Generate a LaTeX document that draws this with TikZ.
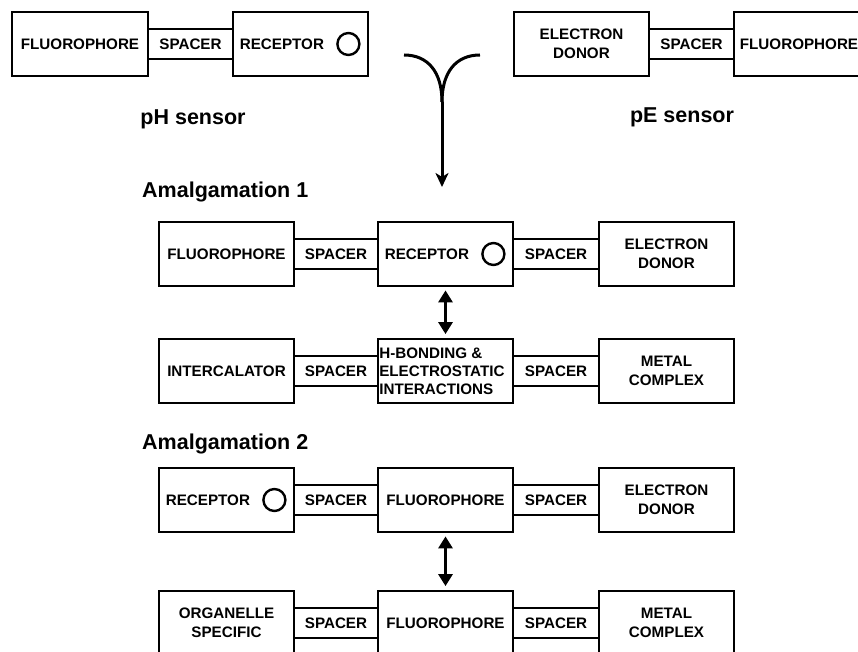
\documentclass[tikz,border=0pt]{standalone}
\usepackage{fontspec}
\setmainfont{Liberation Sans}
\usetikzlibrary{arrows.meta}
\begin{document}
\begin{tikzpicture}[x=1pt,y=-1pt,
  box/.style={draw, line width=2.8pt, inner sep=0pt, minimum height=64pt, align=center, font=\fontsize{15.2}{18.5}\selectfont\bfseries},
  spc/.style={draw, line width=2.8pt, inner sep=0pt, minimum height=30pt, font=\fontsize{15.2}{18.5}\selectfont\bfseries},
  lbl/.style={inner sep=0pt, font=\fontsize{15.2}{18}\selectfont\bfseries},
  ring/.style={draw, circle, line width=2.4pt, minimum size=22pt, inner sep=0pt},
  ttl/.style={inner sep=0pt, font=\fontsize{21.5}{24}\selectfont\bfseries},
  dbl/.style={line width=3.8pt, {Triangle[width=14pt,length=12pt]}-{Triangle[width=14pt,length=12pt]}, shorten <=3pt, shorten >=3.5pt},
  yarr/.style={line width=3pt},
]
\useasboundingbox (0,0) rectangle (858,652);
\clip (0,0) rectangle (858,652);

% top row: pH sensor
\node[box, minimum width=136pt] (f1) at (80,44) {FLUOROPHORE};
\node[box, minimum width=135pt] (r1) at (300.5,44) {};
\node[spc, minimum width=85pt] (s1) at (190.5,44) {SPACER};
\node[lbl, anchor=west] (r1t) at ([xshift=8pt]r1.west) {RECEPTOR};
\node[ring] (r1c) at ([xshift=-21pt]r1.east) {};
\node[ttl, anchor=base] (phs) at (193,125) {pH sensor};

% top row: pE sensor
\node[box, minimum width=135pt] (e1) at (581.5,44) {ELECTRON\\DONOR};
\node[box, minimum width=130pt] (f2) at (799,44) {FLUOROPHORE};
\node[spc, minimum width=85pt] (s2) at (691.5,44) {SPACER};
\node[ttl, anchor=base] (pes) at (682,123) {pE sensor};

% Y arrow
\coordinate (yl) at (404,55);
\coordinate (yr) at (480,55);
\coordinate (yj) at (442,102);
\coordinate (yt) at (442,187);
\draw[yarr] (yl) .. controls (428,55) and (442,72) .. (yj);
\draw[yarr] (yr) .. controls (456,55) and (442,72) .. (yj);
\draw[yarr, -{Stealth[width=13pt,length=14pt,inset=4pt]}] (yj) -- (yt);

% Amalgamation 1
\node[ttl, anchor=base west] (am1) at (142,198) {Amalgamation 1};
\node[box, minimum width=135pt] (a1) at (226.5,254) {FLUOROPHORE};
\node[box, minimum width=135pt] (b1) at (445.5,254) {};
\node[box, minimum width=135pt] (c1) at (666.5,254) {ELECTRON\\DONOR};
\node[spc, minimum width=84pt] (sa1) at (336,254) {SPACER};
\node[spc, minimum width=86pt] (sb1) at (556,254) {SPACER};
\node[lbl, anchor=west] (b1t) at ([xshift=8pt]b1.west) {RECEPTOR};
\node[ring] (b1c) at ([xshift=-21pt]b1.east) {};

\node[box, minimum width=135pt] (a2) at (226.5,371) {INTERCALATOR};
\node[box, minimum width=135pt] (b2) at (445.5,371) {};
\node[box, minimum width=135pt] (c2) at (666.5,371) {METAL\\COMPLEX};
\node[spc, minimum width=84pt] (sa2) at (336,371) {SPACER};
\node[spc, minimum width=86pt] (sb2) at (556,371) {SPACER};
\node[lbl, anchor=west, align=left] (b2t) at ([xshift=2.5pt]b2.west) {H-BONDING \&\\ELECTROSTATIC\\INTERACTIONS};

\draw[dbl] (b1.south) -- (b2.north);

% Amalgamation 2
\node[ttl, anchor=base west] (am2) at (142,449) {Amalgamation 2};
\node[box, minimum width=135pt] (a3) at (226.5,500) {};
\node[box, minimum width=135pt] (b3) at (445.5,500) {FLUOROPHORE};
\node[box, minimum width=135pt] (c3) at (666.5,500) {ELECTRON\\DONOR};
\node[spc, minimum width=84pt] (sa3) at (336,500) {SPACER};
\node[spc, minimum width=86pt] (sb3) at (556,500) {SPACER};
\node[lbl, anchor=west] (a3t) at ([xshift=8pt]a3.west) {RECEPTOR};
\node[ring] (a3c) at ([xshift=-21pt]a3.east) {};

\node[box, minimum width=135pt] (a4) at (226.5,623) {ORGANELLE\\SPECIFIC};
\node[box, minimum width=135pt] (b4) at (445.5,623) {FLUOROPHORE};
\node[box, minimum width=135pt] (c4) at (666.5,623) {METAL\\COMPLEX};
\node[spc, minimum width=84pt] (sa4) at (336,623) {SPACER};
\node[spc, minimum width=86pt] (sb4) at (556,623) {SPACER};

\draw[dbl] (b3.south) -- (b4.north);
\end{tikzpicture}
\end{document}
